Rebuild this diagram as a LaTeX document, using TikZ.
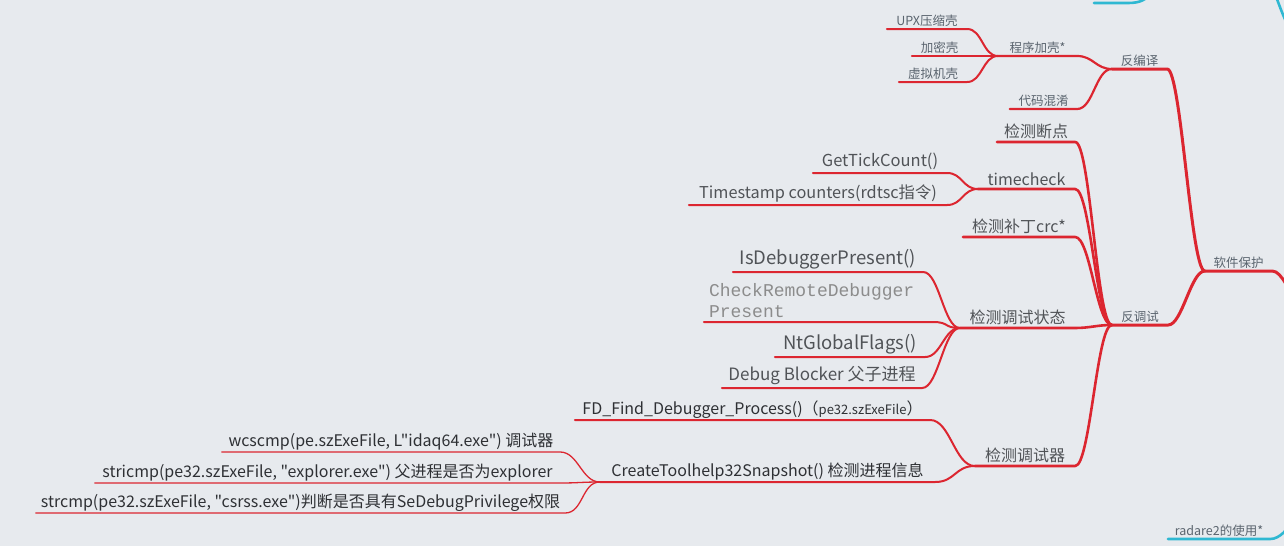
\documentclass[tikz,border=0pt]{standalone}
\usepackage{fontspec}
\setmainfont{Noto Sans CJK SC}[Ligatures=TeXOff]
\newfontfamily\codefont{Liberation Mono}
\definecolor{bgcol}{HTML}{E7EAEE}
\definecolor{mapred}{HTML}{DC2630}
\definecolor{mapcyan}{HTML}{2FB8D2}
\definecolor{headgray}{HTML}{5A646E}
\definecolor{midgray}{HTML}{505357}
\definecolor{deepgray}{HTML}{2E3034}
\definecolor{codegray}{HTML}{8C8C8C}
\tikzset{
  topic/.style={anchor=south,inner xsep=0pt,inner ysep=2.5pt,text=headgray,
    font=\fontsize{12.5}{14}\selectfont},
  sub/.style={topic,inner ysep=3pt,text=midgray,font=\fontsize{16}{18}\selectfont},
  leaf/.style={topic,inner ysep=1.5pt,text=deepgray,font=\fontsize{16}{18}\selectfont},
  edge/.style={draw=mapred,line width=#1,line cap=round,line join=round},
  otheredge/.style={draw=mapcyan,line width=2.6pt,line cap=round}
}
\begin{document}
\begin{tikzpicture}[x=1pt,y=-1pt]
  \fill[bgcol] (0,0) rectangle (1284,546);
  \useasboundingbox (0,0) rectangle (1284,546);
  \clip (0,0) rectangle (1284,546);

  % Wurzel und erste Ebene.
  \node[topic,minimum width=67] (root) at (1238.5,271) {软件保护};
  \node[topic,minimum width=55] (fby) at (1139.5,69) {反编译};
  \node[topic,minimum width=56] (fts) at (1140,325) {反调试};

  % Unter 反编译.
  \node[topic,minimum width=79] (jk) at (1037.5,56) {程序加壳*};
  \node[topic,minimum width=67] (hx) at (1043.5,109) {代码混淆};
  \node[topic,minimum width=80] (upx) at (927,29) {UPX压缩壳};
  \node[topic,minimum width=55] (jmk) at (939.5,56) {加密壳};
  \node[topic,minimum width=68] (xnj) at (933,82) {虚拟机壳};

  % Unter 反调试.
  \node[sub,minimum width=78] (dd) at (1036,142) {检测断点};
  \node[sub,minimum width=97] (tc) at (1026.5,189) {timecheck};
  \node[sub,minimum width=112] (crc) at (1019,237) {检测补丁crc*};
  \node[sub,minimum width=115] (zt) at (1017.5,328) {检测调试状态};
  \node[sub,minimum width=100] (tsq) at (1025,466) {检测调试器};

  \node[sub,font=\fontsize{16.5}{18}\selectfont,minimum width=134] (gtc) at (880,173) {GetTickCount()};
  \node[sub,font=\fontsize{16.3}{18}\selectfont,minimum width=258] (tsc) at (818,205) {Timestamp counters(rdtsc指令)};

  \node[sub,font=\fontsize{18.5}{20}\selectfont,minimum width=190] (idp) at (828,272) {IsDebuggerPresent()};
  \node[sub,text=codegray,font=\codefont\fontsize{18}{21}\selectfont,text width=219,align=left,
    inner xsep=5pt,inner ysep=4.5pt] (crd) at (818.5,322) {CheckRemoteDebugger\\Present};
  \node[sub,font=\fontsize{18.5}{20}\selectfont,minimum width=150] (ngf) at (850,357) {NtGlobalFlags()};
  \node[sub,font=\fontsize{17}{19}\selectfont,minimum width=200] (dbb) at (822,388) {Debug Blocker 父子进程};

  \node[leaf,minimum width=355] (fdp) at (752.5,420)
    {FD\_Find\_Debugger\_Process()（{\fontsize{13}{14}\selectfont pe32.szExeFile}）};
  \node[leaf,minimum width=335] (cth) at (767.5,482) {CreateToolhelp32Snapshot() 检测进程信息};
  \node[leaf,minimum width=338] (wcs) at (391,452) {wcscmp(pe.szExeFile, L"idaq64.exe") 调试器};
  \node[leaf,minimum width=465] (sti) at (327.5,483) {stricmp(pe32.szExeFile, "explorer.exe") 父进程是否为explorer};
  \node[leaf,minimum width=529] (stc) at (300.5,513) {strcmp(pe32.szExeFile, "csrss.exe")判断是否具有SeDebugPrivilege权限};

  \node[topic,minimum width=102] (r2) at (1219,539) {radare2的使用*};

  % Verbindungen.
  \draw[edge=3pt] (root.south west) -- (root.south east) .. controls +(10,0) and +(-6,-8) .. (1296,302);
  \foreach \c in {fby,fts}{
    \draw[edge=3pt] (\c.south west) -- (\c.south east) .. controls +(14,0) and +(-14,0) .. (root.south west);
  }
  \foreach \c in {jk,hx}{
    \draw[edge=2.2pt] (\c.south west) -- (\c.south east) .. controls +(16,0) and +(-16,0) .. (fby.south west);
  }
  \foreach \c in {upx,jmk,xnj}{
    \draw[edge=2pt] (\c.south west) -- (\c.south east) .. controls +(15,0) and +(-15,0) .. (jk.south west);
  }
  \foreach \c in {dd,tc,crc,zt,tsq}{
    \draw[edge=2.6pt] (\c.south west) -- (\c.south east) .. controls +(15,0) and +(-15,0) .. (fts.south west);
  }
  \foreach \c in {gtc,tsc}{
    \draw[edge=2pt] (\c.south west) -- (\c.south east) .. controls +(15,0) and +(-15,0) .. (tc.south west);
  }
  \foreach \c in {idp,crd,ngf,dbb}{
    \draw[edge=2pt] (\c.south west) -- (\c.south east) .. controls +(16,0) and +(-16,0) .. (zt.south west);
  }
  \foreach \c in {fdp,cth}{
    \draw[edge=2pt] (\c.south west) -- (\c.south east) .. controls +(20,0) and +(-20,0) .. (tsq.south west);
  }
  \foreach \c in {wcs,sti,stc}{
    \draw[edge=1.3pt] (\c.south west) -- (\c.south east) .. controls +(18,0) and +(-18,0) .. (cth.south west);
  }

  % Angeschnittene Nachbarzweige.
  \draw[otheredge] (r2.south west) -- (r2.south east) .. controls +(10,0) and +(-4,6) .. (1292,522);
  \draw[otheredge] (1094,3) -- (1128,3) .. controls (1140,3) and (1146,0) .. (1152,-8);
  \draw[otheredge] (1275,-6) .. controls (1279,4) and (1282,14) .. (1290,30);
\end{tikzpicture}
\end{document}
